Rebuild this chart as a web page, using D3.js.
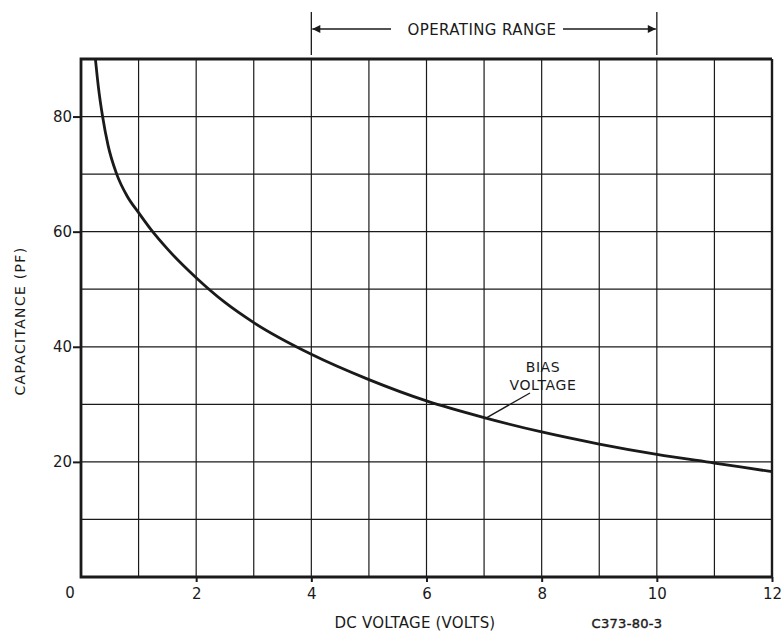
<!DOCTYPE html>
<html>
<head>
<meta charset="utf-8">
<script src="https://cdn.jsdelivr.net/npm/d3@7"></script>
<style>
  body { margin: 0; background: #fff; }
  text { font-family: "DejaVu Sans", "Liberation Sans", sans-serif; fill: #1a1a1a; }
</style>
</head>
<body>
<script>
// curve: DC volts vs capacitance (pF)
var volts = [0.25, 0.3, 0.375, 0.47, 0.62, 0.8, 1.0, 1.22, 1.5, 2, 2.5, 3, 4, 5, 6, 7, 8, 9, 10, 11, 12];
var capacitance = [90, 85.3, 80, 75, 70, 66.2, 63.3, 60.3, 57, 52, 47.7, 44.2, 38.7, 34.3, 30.6, 27.7, 25.2, 23.1, 21.3, 19.8, 18.3];

var xTicks = [2, 4, 6, 8, 10, 12];
var yTicks = [20, 40, 60, 80];
var xGrid = d3.range(1, 12);
var yGrid = d3.range(10, 90, 10);
var operatingRange = [4, 10];

var width = 781, height = 631;
var margin = { top: 59, right: 9, bottom: 54, left: 81 };
var ink = '#1a1a1a';

var svg = d3.select('body').append('svg')
  .attr('width', width)
  .attr('height', height);

var x = d3.scaleLinear().domain([0, 12]).range([margin.left, width - margin.right]);
var y = d3.scaleLinear().domain([0, 90]).range([height - margin.bottom, margin.top]);

// grid
svg.append('g').selectAll('line').data(xGrid).enter().append('line')
  .attr('x1', function(d) { return x(d); })
  .attr('x2', function(d) { return x(d); })
  .attr('y1', y(0)).attr('y2', y(90))
  .attr('stroke', ink).attr('stroke-width', 1.2);

svg.append('g').selectAll('line').data(yGrid).enter().append('line')
  .attr('x1', x(0)).attr('x2', x(12))
  .attr('y1', function(d) { return y(d); })
  .attr('y2', function(d) { return y(d); })
  .attr('stroke', ink).attr('stroke-width', 1.2);

// frame
svg.append('path')
  .attr('d', 'M' + x(12) + ',' + y(90) + 'H' + x(0) + 'V' + y(0) + 'H' + x(12))
  .attr('fill', 'none').attr('stroke', ink).attr('stroke-width', 2.8);
svg.append('line')
  .attr('x1', x(12)).attr('x2', x(12)).attr('y1', y(90)).attr('y2', y(0))
  .attr('stroke', ink).attr('stroke-width', 2.4);

// axes
var xAxis = svg.append('g')
  .attr('transform', 'translate(0,' + y(0) + ')')
  .call(d3.axisBottom(x).tickValues(xTicks).tickSize(5).tickPadding(6));
var yAxis = svg.append('g')
  .attr('transform', 'translate(' + x(0) + ',0)')
  .call(d3.axisLeft(y).tickValues(yTicks).tickSize(8).tickPadding(1));

[xAxis, yAxis].forEach(function(g) {
  g.select('.domain').remove();
  g.selectAll('.tick line').attr('stroke', ink).attr('stroke-width', 2);
  g.selectAll('.tick text').attr('font-size', 15).attr('fill', ink)
    .style('font-family', '"DejaVu Sans", sans-serif');
});

svg.append('text')
  .attr('x', 70).attr('y', 598)
  .attr('text-anchor', 'middle')
  .attr('font-size', 15)
  .text('0');

// curve
var line = d3.line()
  .x(function(d) { return x(d[0]); })
  .y(function(d) { return y(d[1]); })
  .curve(d3.curveMonotoneX);

svg.append('path')
  .datum(d3.zip(volts, capacitance))
  .attr('d', line)
  .attr('fill', 'none')
  .attr('stroke', ink)
  .attr('stroke-width', 2.8);

// annotation
svg.append('text').attr('x', 543).attr('y', 372).attr('text-anchor', 'middle')
  .attr('font-size', 14).attr('letter-spacing', 0.6).text('BIAS');
svg.append('text').attr('x', 543).attr('y', 390).attr('text-anchor', 'middle')
  .attr('font-size', 14).attr('letter-spacing', 0.6).text('VOLTAGE');
svg.append('line')
  .attr('x1', 530).attr('y1', 393).attr('x2', x(7) + 1).attr('y2', y(27.7) + 1)
  .attr('stroke', ink).attr('stroke-width', 1.4);

// operating range marker
var arrowY = 29;
svg.append('defs').append('marker')
  .attr('id', 'arrow').attr('viewBox', '0 0 10 10')
  .attr('refX', 10).attr('refY', 5)
  .attr('markerWidth', 13).attr('markerHeight', 8)
  .attr('markerUnits', 'userSpaceOnUse')
  .attr('orient', 'auto')
  .append('path').attr('d', 'M0,0L10,5L0,10Z').attr('fill', ink);

operatingRange.forEach(function(v) {
  svg.append('line')
    .attr('x1', x(v)).attr('x2', x(v)).attr('y1', 12).attr('y2', 55)
    .attr('stroke', ink).attr('stroke-width', 1.3);
});
svg.append('line')
  .attr('x1', 391).attr('x2', x(operatingRange[0]) + 1).attr('y1', arrowY).attr('y2', arrowY)
  .attr('stroke', ink).attr('stroke-width', 1.4).attr('marker-end', 'url(#arrow)');
svg.append('line')
  .attr('x1', 563).attr('x2', x(operatingRange[1]) - 1).attr('y1', arrowY).attr('y2', arrowY)
  .attr('stroke', ink).attr('stroke-width', 1.4).attr('marker-end', 'url(#arrow)');
svg.append('text').attr('x', 482).attr('y', arrowY + 5.5).attr('text-anchor', 'middle')
  .attr('font-size', 15).attr('letter-spacing', 0.4).text('OPERATING RANGE');

// axis titles
svg.append('text').attr('x', 415).attr('y', 628).attr('text-anchor', 'middle')
  .attr('font-size', 15).attr('letter-spacing', 0.2).text('DC VOLTAGE (VOLTS)');
svg.append('text').attr('x', 627).attr('y', 628).attr('text-anchor', 'middle')
  .attr('font-size', 13).attr('letter-spacing', 0.3).attr('stroke', ink).attr('stroke-width', 0.4)
  .text('C373-80-3');
svg.append('text')
  .attr('transform', 'translate(25,321) rotate(-90)')
  .attr('text-anchor', 'middle')
  .attr('font-size', 14).attr('letter-spacing', 1.3).text('CAPACITANCE (PF)');
</script>
</body>
</html>
